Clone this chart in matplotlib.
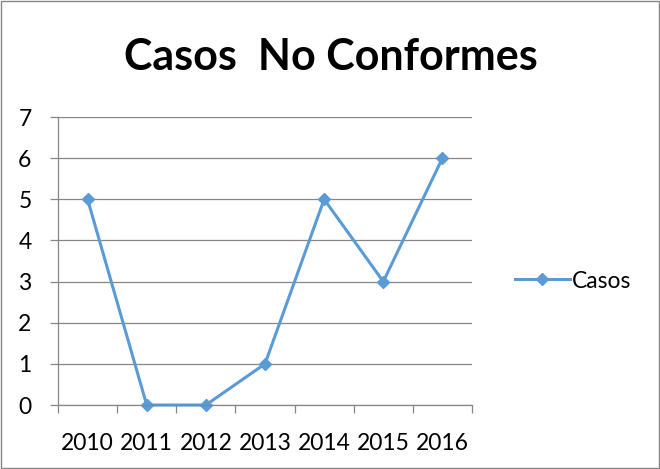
import matplotlib
matplotlib.use("Agg")
import matplotlib.pyplot as plt
from matplotlib.patches import Rectangle
import numpy as np

years = ["2010", "2011", "2012", "2013", "2014", "2015", "2016"]
casos = [5, 0, 0, 1, 5, 3, 6]
title = "Casos  No Conformes"
series_name = "Casos"

plt.rcParams['font.family'] = ['Lato', 'DejaVu Sans']
color = "#5B9BD5"
grid_c = "#868686"

fig = plt.figure(figsize=(6.6, 4.69), dpi=100)
ax = fig.add_axes([58/660, 1-405/469, (472-58)/660, (405-117)/469])

x = np.arange(len(years))
ax.plot(x, casos, color=color, lw=2.2, marker="D", markersize=6.5, label=series_name, clip_on=False)

ax.set_xlim(-0.5, len(years)-0.5)
ax.set_ylim(0, 7)
ax.set_yticks(range(0, 8))
ax.yaxis.grid(True, color=grid_c, lw=0.9)
ax.set_axisbelow(True)
ax.set_xticks(x)
ax.set_xticklabels(years)
ax.set_xticks(np.arange(-0.5, len(years)), minor=True)
ax.tick_params(axis="x", which="major", length=0, pad=20, labelsize=16.5)
ax.tick_params(axis="x", which="minor", length=6, color=grid_c, width=0.9)
ax.tick_params(axis="y", length=6, color=grid_c, width=0.9, labelsize=16.5, pad=13)
for s in ["top", "right"]:
    ax.spines[s].set_visible(False)
for s in ["left", "bottom"]:
    ax.spines[s].set_color(grid_c)
    ax.spines[s].set_linewidth(0.9)

fig.text(331/660, 1-57/469, title, ha="center", va="center", fontsize=31, fontweight="bold")

leg = fig.legend(loc="center left", bbox_to_anchor=(494/660, 1-281/469), frameon=False,
                 fontsize=16.5, handlelength=2.4, handletextpad=0.1)

fig.patches.append(Rectangle((0.002, 0.002), 0.996, 0.996, transform=fig.transFigure,
                             fill=False, edgecolor="#868686", lw=1))

fig.savefig("out.png", dpi=100)
